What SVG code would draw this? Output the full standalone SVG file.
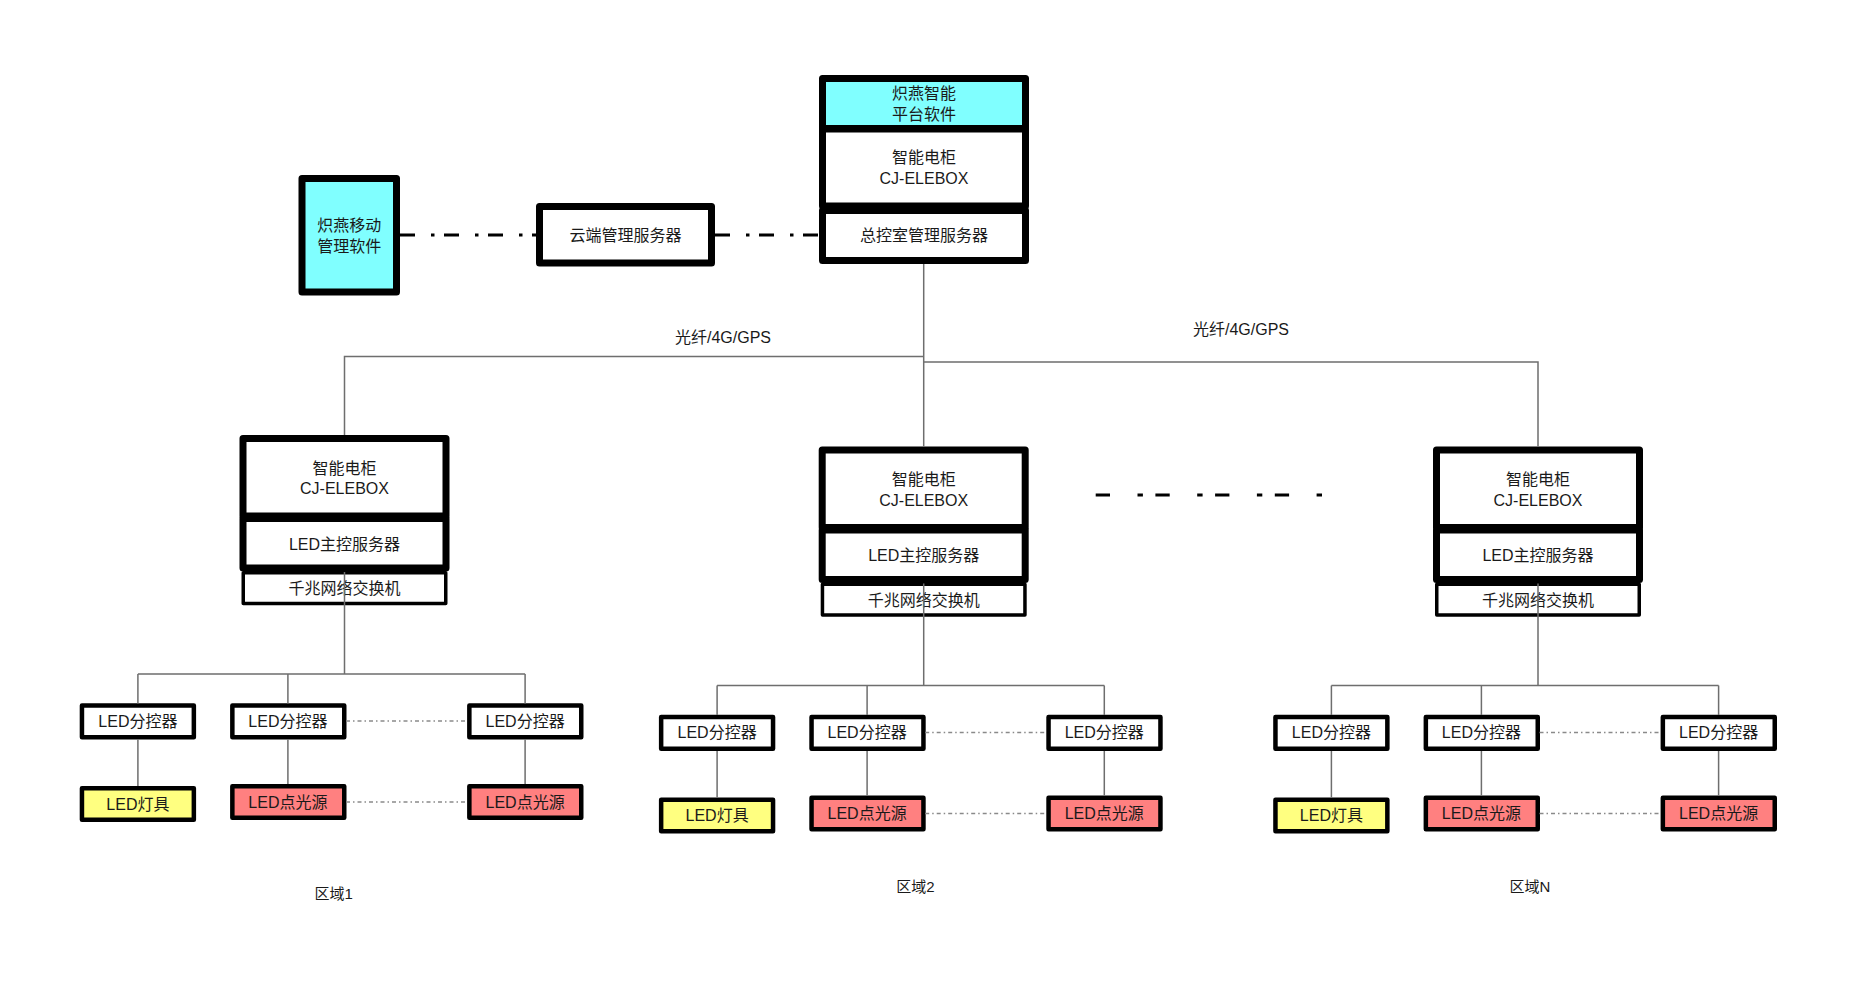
<svg xmlns="http://www.w3.org/2000/svg" width="1856" height="984" viewBox="0 0 1856 984">
<style>
.t{font-family:"Liberation Sans","Noto Sans CJK SC",sans-serif;font-size:16px;fill:#1a1a1a;text-anchor:middle;dominant-baseline:central}
.lbl{font-size:15px}
.thick{stroke:#000;stroke-width:7;stroke-linejoin:round}
.sw{stroke:#000;stroke-width:3.5;fill:#fff;stroke-linejoin:round}
.bx{stroke:#000;stroke-width:4.5;stroke-linejoin:round}
.w{fill:#fff}
.cy{fill:#80FFFF}
.ye{fill:#FFFF80}
.rd{fill:#FF8080}
.ln{stroke:#6e6e6e;stroke-width:1.5;fill:none}
.dd{stroke:#000;stroke-width:3;fill:none;stroke-dasharray:15 16 3.5 9.5}
.el{stroke:#000;stroke-width:3;fill:none;stroke-dasharray:14.3 27.5 5.4 12.5}
.dt{stroke:#8a8a8a;stroke-width:1.5;fill:none;stroke-dasharray:4 3 1.5 3}
</style>
<rect width="1856" height="984" fill="#fff"/>

<g id="mobile-app">
<rect class="thick cy" x="302" y="178.5" width="94.5" height="113.5"/>
<text class="t" x="349.3" y="225">炽燕移动</text>
<text class="t" x="349.3" y="246">管理软件</text>
</g>

<g id="cloud-server">
<rect class="thick w" x="539.5" y="206.5" width="172" height="56.5"/>
<text class="t" x="625.5" y="235">云端管理服务器</text>
</g>

<g id="platform-software">
<rect class="thick cy" x="822.5" y="78.5" width="203" height="50"/>
<text class="t" x="924" y="93">炽燕智能</text>
<text class="t" x="924" y="114">平台软件</text>
</g>
<g id="main-cabinet">
<rect class="thick w" x="822.5" y="129" width="203" height="77"/>
<text class="t" x="924" y="157">智能电柜</text>
<text class="t" x="924" y="178">CJ-ELEBOX</text>
</g>
<g id="control-room-server">
<rect class="thick w" x="822.5" y="210.5" width="203" height="50"/>
<text class="t" x="924" y="235.5">总控室管理服务器</text>
</g>

<text class="t" x="723" y="337">光纤/4G/GPS</text>
<text class="t" x="1241" y="329">光纤/4G/GPS</text>

<g id="region1" transform="translate(344.5,435)">
<g id="r1-switch"><rect class="sw" x="-101.25" y="137.75" width="202.5" height="30.8"/><text class="t" x="0" y="153.5">千兆网络交换机</text></g>
<g id="r1-cabinet"><rect class="thick w" x="-101.5" y="3.5" width="203" height="77.5"/><text class="t" x="0" y="33">智能电柜</text><text class="t" x="0" y="53.5">CJ-ELEBOX</text></g>
<g id="r1-led-master"><rect class="thick w" x="-101.5" y="83.5" width="203" height="49.5"/><text class="t" x="0" y="109">LED主控服务器</text></g>
<g id="r1-sub1"><rect class="bx w" x="-262.55" y="270.55" width="111.9" height="31.7"/><text class="t" x="-206.6" y="286.4">LED分控器</text></g>
<g id="r1-sub2"><rect class="bx w" x="-112.15" y="270.55" width="111.9" height="31.7"/><text class="t" x="-56.6" y="286.4">LED分控器</text></g>
<g id="r1-sub3"><rect class="bx w" x="124.85" y="270.55" width="111.9" height="31.7"/><text class="t" x="180.6" y="286.4">LED分控器</text></g>
<g id="r1-lamp"><rect class="bx ye" x="-262.55" y="353.25" width="111.9" height="31.5"/><text class="t" x="-206.6" y="369">LED灯具</text></g>
<g id="r1-point1"><rect class="bx rd" x="-112.15" y="351.25" width="111.9" height="31.5"/><text class="t" x="-56.6" y="367">LED点光源</text></g>
<g id="r1-point2"><rect class="bx rd" x="124.85" y="351.25" width="111.9" height="31.5"/><text class="t" x="180.6" y="367">LED点光源</text></g>
</g>

<g id="region2" transform="translate(923.7,446.5)">
<g id="r2-switch"><rect class="sw" x="-101.25" y="137.75" width="202.5" height="30.8"/><text class="t" x="0" y="153.5">千兆网络交换机</text></g>
<g id="r2-cabinet"><rect class="thick w" x="-101.5" y="3.5" width="203" height="77.5"/><text class="t" x="0" y="33">智能电柜</text><text class="t" x="0" y="53.5">CJ-ELEBOX</text></g>
<g id="r2-led-master"><rect class="thick w" x="-101.5" y="83.5" width="203" height="49.5"/><text class="t" x="0" y="109">LED主控服务器</text></g>
<g id="r2-sub1"><rect class="bx w" x="-262.55" y="270.55" width="111.9" height="31.7"/><text class="t" x="-206.6" y="286.4">LED分控器</text></g>
<g id="r2-sub2"><rect class="bx w" x="-112.15" y="270.55" width="111.9" height="31.7"/><text class="t" x="-56.6" y="286.4">LED分控器</text></g>
<g id="r2-sub3"><rect class="bx w" x="124.85" y="270.55" width="111.9" height="31.7"/><text class="t" x="180.6" y="286.4">LED分控器</text></g>
<g id="r2-lamp"><rect class="bx ye" x="-262.55" y="353.25" width="111.9" height="31.5"/><text class="t" x="-206.6" y="369">LED灯具</text></g>
<g id="r2-point1"><rect class="bx rd" x="-112.15" y="351.25" width="111.9" height="31.5"/><text class="t" x="-56.6" y="367">LED点光源</text></g>
<g id="r2-point2"><rect class="bx rd" x="124.85" y="351.25" width="111.9" height="31.5"/><text class="t" x="180.6" y="367">LED点光源</text></g>
</g>

<g id="regionN" transform="translate(1538,446.5)">
<g id="rN-switch"><rect class="sw" x="-101.25" y="137.75" width="202.5" height="30.8"/><text class="t" x="0" y="153.5">千兆网络交换机</text></g>
<g id="rN-cabinet"><rect class="thick w" x="-101.5" y="3.5" width="203" height="77.5"/><text class="t" x="0" y="33">智能电柜</text><text class="t" x="0" y="53.5">CJ-ELEBOX</text></g>
<g id="rN-led-master"><rect class="thick w" x="-101.5" y="83.5" width="203" height="49.5"/><text class="t" x="0" y="109">LED主控服务器</text></g>
<g id="rN-sub1"><rect class="bx w" x="-262.55" y="270.55" width="111.9" height="31.7"/><text class="t" x="-206.6" y="286.4">LED分控器</text></g>
<g id="rN-sub2"><rect class="bx w" x="-112.15" y="270.55" width="111.9" height="31.7"/><text class="t" x="-56.6" y="286.4">LED分控器</text></g>
<g id="rN-sub3"><rect class="bx w" x="124.85" y="270.55" width="111.9" height="31.7"/><text class="t" x="180.6" y="286.4">LED分控器</text></g>
<g id="rN-lamp"><rect class="bx ye" x="-262.55" y="353.25" width="111.9" height="31.5"/><text class="t" x="-206.6" y="369">LED灯具</text></g>
<g id="rN-point1"><rect class="bx rd" x="-112.15" y="351.25" width="111.9" height="31.5"/><text class="t" x="-56.6" y="367">LED点光源</text></g>
<g id="rN-point2"><rect class="bx rd" x="124.85" y="351.25" width="111.9" height="31.5"/><text class="t" x="180.6" y="367">LED点光源</text></g>
</g>

<text class="t lbl" x="333.6" y="893">区域1</text>
<text class="t lbl" x="915.5" y="886">区域2</text>
<text class="t lbl" x="1530" y="886">区域N</text>

<g id="connectors">
<path class="dd" d="M400 235H536"/>
<path class="dd" d="M715 235H819"/>
<path class="el" d="M1095.7 495H1322.5"/>
<path class="ln" d="M923.7 264V446.5M923.7 356.5H344.5V435M923.7 362H1538V446.5"/>
<g transform="translate(344.5,435)">
<path class="ln" d="M0 137V239M-206.6 239H180.6M-206.6 239V268.5M-56.6 239V268.5M180.6 239V268.5M-206.6 304.5V351M-56.6 304.5V349M180.6 304.5V349"/>
<path class="dt" d="M1.5 286H122.5M1.5 367H122.5"/>
</g>
<g transform="translate(923.7,446.5)">
<path class="ln" d="M0 137V239M-206.6 239H180.6M-206.6 239V268.5M-56.6 239V268.5M180.6 239V268.5M-206.6 304.5V351M-56.6 304.5V349M180.6 304.5V349"/>
<path class="dt" d="M1.5 286H122.5M1.5 367H122.5"/>
</g>
<g transform="translate(1538,446.5)">
<path class="ln" d="M0 137V239M-206.6 239H180.6M-206.6 239V268.5M-56.6 239V268.5M180.6 239V268.5M-206.6 304.5V351M-56.6 304.5V349M180.6 304.5V349"/>
<path class="dt" d="M1.5 286H122.5M1.5 367H122.5"/>
</g>
</g>
</svg>
